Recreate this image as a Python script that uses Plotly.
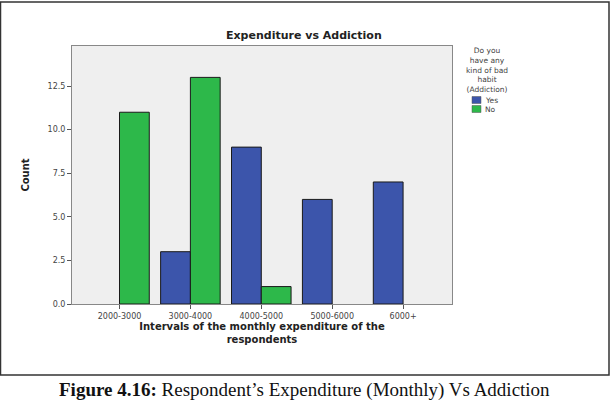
import plotly.graph_objects as go

categories = ["2000-3000", "3000-4000", "4000-5000", "5000-6000", "6000+"]
yes_counts = [0, 3, 9, 6, 7]
no_counts = [11, 13, 1, 0, 0]
y_ticks = [0, 2.5, 5, 7.5, 10, 12.5]
legend_title_lines = ["Do you", "have any", "kind of bad", "habit", "(Addiction)"]
series_names = ["Yes", "No"]
series_colors = ["#3c55ab", "#2db84a"]

W, H = 613, 402
L, R, T, B = 72, 161, 46, 98
pw, ph = W - L - R, H - T - B

def px(x):
    return (x - L) / pw

def py(y):
    return 1 - (y - T) / ph

SANS = "DejaVu Sans, Arial"

fig = go.Figure()
for name, vals, col in zip(series_names, [yes_counts, no_counts], series_colors):
    fig.add_trace(go.Bar(
        x=categories, y=vals, name=name, showlegend=False,
        marker=dict(color=col, line=dict(color="#1a1a1a",
                                         width=[0 if v == 0 else 1 for v in vals]))))

shapes = [dict(type="rect", xref="paper", yref="paper",
               x0=px(0.5), x1=px(609), y0=py(375), y1=py(2),
               line=dict(color="#333", width=1.5), fillcolor="rgba(0,0,0,0)", layer="below")]
annotations = [
    dict(text="<b>Expenditure vs Addiction</b>", xref="paper", yref="paper",
         x=px(304), y=py(36), xanchor="center", yanchor="middle", showarrow=False,
         font=dict(size=11, family=SANS, color="#222")),
    dict(text="<b>Figure 4.16:</b> Respondent\u2019s Expenditure (Monthly) Vs Addiction",
         xref="paper", yref="paper", x=px(304), y=py(403), xanchor="center", yanchor="bottom",
         showarrow=False, font=dict(size=19, family="Liberation Serif, Times New Roman", color="#111")),
    dict(text="<br>".join(legend_title_lines), xref="paper", yref="paper", x=px(487), y=py(70),
         xanchor="center", yanchor="middle", showarrow=False,
         font=dict(size=7.5, family=SANS, color="#444")),
]
for i, (name, col) in enumerate(zip(series_names, series_colors)):
    yc = 100 + 9 * i
    shapes.append(dict(type="rect", xref="paper", yref="paper",
                       x0=px(472), x1=px(481), y0=py(yc + 3.5), y1=py(yc - 3.5),
                       fillcolor=col, line=dict(color="#555", width=0.5)))
    annotations.append(dict(text=name, xref="paper", yref="paper", x=px(483), y=py(yc),
                            xanchor="left", yanchor="middle", showarrow=False,
                            font=dict(size=7.5, family=SANS, color="#444")))

fig.update_layout(
    width=W, height=H,
    margin=dict(l=L, r=R, t=T, b=B, autoexpand=False),
    paper_bgcolor="white",
    plot_bgcolor="#efefef",
    barmode="group", bargap=0.16, bargroupgap=0,
    showlegend=False,
    font=dict(family=SANS, color="#222"),
    xaxis=dict(range=[-0.67, 4.69], showline=True, linecolor="#888", linewidth=1,
               mirror=True, ticks="outside", ticklen=4, tickcolor="#555",
               tickfont=dict(size=8, color="#444"), showgrid=False, zeroline=False,
               title=dict(text="<b>Intervals of the monthly expenditure of the<br>respondents</b>",
                          font=dict(size=10, color="#222"), standoff=3)),
    yaxis=dict(range=[0, 14.8], tickvals=y_ticks, tickformat=".1f", showline=True,
               linecolor="#888", linewidth=1, mirror=True, ticks="outside", ticklen=4,
               tickcolor="#555", tickfont=dict(size=8, color="#444"), showgrid=False,
               zeroline=False,
               title=dict(text="<b>Count</b>", font=dict(size=10, color="#222"), standoff=16)),
    shapes=shapes,
    annotations=annotations,
)

fig.write_html("out.html")
